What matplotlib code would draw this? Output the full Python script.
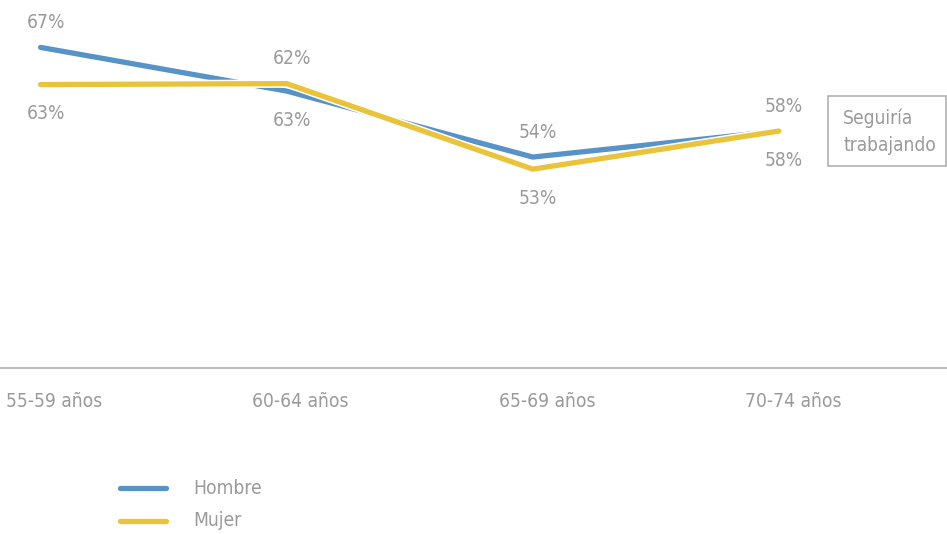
import matplotlib
matplotlib.use("Agg")
import matplotlib.pyplot as plt
import matplotlib.transforms as mtransforms
import matplotlib.patheffects as pe
from matplotlib.patches import Rectangle

plt.rcParams['font.family'] = ['Liberation Sans Narrow', 'DejaVu Sans']
plt.rcParams['font.stretch'] = 'condensed'

categories = ["55-59 años", "60-64 años", "65-69 años", "70-74 años"]
hombre = [67.0, 62.3, 55.2, 58.0]
mujer = [63.0, 63.1, 53.9, 58.0]
labels_top = ["67%", "62%", "54%", "58%"]
labels_bottom = ["63%", "63%", "53%", "58%"]
series_names = ["Hombre", "Mujer"]
box_text = "Seguiría\ntrabajando"

BLUE = "#5893c8"
YELLOW = "#e9c33a"
GREY = "#9a9a9a"
FS = 13.8

W, H = 947, 534
fig = plt.figure(figsize=(W / 100, H / 100), dpi=100)
ax = fig.add_axes([0, (H - 368) / H, 1, 368 / H])
x = list(range(len(categories)))
ax.set_xlim(-0.165, 3.683)
ax.set_ylim(32.5, 72.1)
for s in ["top", "right", "left"]:
    ax.spines[s].set_visible(False)
ax.spines["bottom"].set_color("#bdbdbd")
ax.spines["bottom"].set_linewidth(1.5)
ax.set_yticks([])
ax.set_xticks(x)
ax.set_xticklabels(categories, color=GREY, fontsize=FS)
ax.tick_params(axis="x", length=0, pad=17)
for lab in ax.get_xticklabels():
    lab.set_transform(lab.get_transform() + mtransforms.ScaledTranslation(14 / 100, 0, fig.dpi_scale_trans))

stroke = [pe.Stroke(linewidth=6.0, foreground="white"), pe.Normal()]
ax.plot(x, hombre, color=BLUE, lw=3.8, solid_capstyle="round", solid_joinstyle="miter",
        path_effects=stroke, zorder=3)
ax.plot(x, mujer, color=YELLOW, lw=3.8, solid_capstyle="round", solid_joinstyle="miter",
        path_effects=stroke, zorder=4)

for i in x:
    top = max(hombre[i], mujer[i])
    bot = min(hombre[i], mujer[i])
    t_up = mtransforms.offset_copy(ax.transData, fig=fig, x=5, y=25, units="dots")
    t_dn = mtransforms.offset_copy(ax.transData, fig=fig, x=5, y=-29, units="dots")
    ax.text(i, top, labels_top[i], transform=t_up, ha="center", va="center",
            color=GREY, fontsize=FS)
    ax.text(i, bot, labels_bottom[i], transform=t_dn, ha="center", va="center",
            color=GREY, fontsize=FS)

fig.patches.append(Rectangle((828 / W, 1 - 166 / H), 118 / W, 70 / H,
                             transform=fig.transFigure, fill=False,
                             edgecolor="#b0b0b0", linewidth=1.2))
fig.text(843 / W, 1 - 132 / H, box_text, ha="left", va="center", color=GREY,
         fontsize=FS, linespacing=1.5)

for j, (name, col) in enumerate(zip(series_names, [BLUE, YELLOW])):
    yy = 1 - (488 + 33 * j) / H
    fig.add_artist(plt.Line2D([120 / W, 166 / W], [yy, yy], transform=fig.transFigure,
                              color=col, lw=3.8, solid_capstyle="round"))
    fig.text(193 / W, yy, name, ha="left", va="center", color=GREY, fontsize=FS)

fig.savefig("out.png", dpi=100, facecolor="white")
